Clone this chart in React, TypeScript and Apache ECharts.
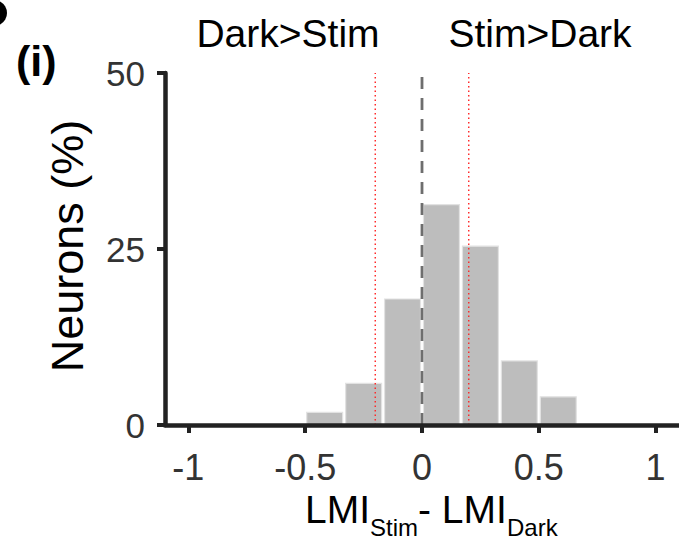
import React, { useEffect, useRef } from "react";
import * as echarts from "echarts";

const binStarts = [-0.5, -0.3333, -0.1667, 0, 0.1667, 0.3333, 0.5];
const binWidth = 0.1667;
const percents = [1.8, 5.9, 17.9, 31.3, 25.4, 9.1, 4.0];
const xTicks = [-1, -0.5, 0, 0.5, 1];
const zeroLine = [[0, 0], [0, 50]];
const leftThreshold = [[-0.2, 0], [-0.2, 50]];
const rightThreshold = [[0.2, 0], [0.2, 50]];

const FONT = '"Liberation Sans", Arial, Helvetica, sans-serif';

export default function App() {
  const ref = useRef<HTMLDivElement>(null);
  useEffect(() => {
    if (!ref.current) return;
    document.body.style.margin = "0";
    const chart = echarts.init(ref.current, undefined, { renderer: "svg" });
    const barData = binStarts.map((s, i) => [s, s + binWidth, percents[i]]);
    chart.setOption({
      animation: false,
      backgroundColor: "#ffffff",
      grid: { left: 165, right: 0, top: 73, bottom: 117, containLabel: false },
      xAxis: {
        type: "value",
        min: -1.1,
        max: 1.1,
        z: 5,
        splitLine: { show: false },
        axisLine: { show: true, onZero: false, lineStyle: { color: "#222", width: 4.5 } },
        axisTick: { show: true, customValues: xTicks, length: 8, lineStyle: { color: "#222", width: 4 } },
        axisLabel: {
          customValues: xTicks,
          margin: 24,
          fontSize: 36,
          color: "#333",
          fontFamily: FONT,
        },
      },
      yAxis: {
        type: "value",
        min: 0,
        max: 50,
        interval: 25,
        z: 5,
        splitLine: { show: false },
        axisLine: { show: true, onZero: false, lineStyle: { color: "#222", width: 4.5 } },
        axisTick: { show: true, length: 8, lineStyle: { color: "#222", width: 4 } },
        axisLabel: { margin: 20, fontSize: 35, color: "#333", fontFamily: FONT },
      },
      series: [
        {
          type: "custom",
          data: barData,
          z: 2,
          renderItem: (params: any, api: any) => {
            const x0 = api.value(0);
            const x1 = api.value(1);
            const y = api.value(2);
            const p0 = api.coord([x0, y]);
            const p1 = api.coord([x1, 0]);
            return {
              type: "rect",
              shape: { x: p0[0] + 1.5, y: p0[1], width: p1[0] - p0[0] - 3, height: p1[1] - p0[1] },
              style: { fill: "#bdbdbd", stroke: "#e2e2e2", lineWidth: 1.2 },
            };
          },
        },
        {
          type: "line",
          data: zeroLine,
          symbol: "none",
          z: 3,
          lineStyle: { color: "#6e6e6e", width: 2.8, type: [12, 9] },
        },
        {
          type: "line",
          data: leftThreshold,
          symbol: "none",
          z: 4,
          lineStyle: { color: "#ff2a2a", width: 1.5, type: [1.5, 3] },
        },
        {
          type: "line",
          data: rightThreshold,
          symbol: "none",
          z: 4,
          lineStyle: { color: "#ff2a2a", width: 1.5, type: [1.5, 3] },
        },
      ],
      graphic: [
        { type: "circle", shape: { cx: -6, cy: 13, r: 13 }, style: { fill: "#000" } },
        {
          type: "text",
          x: 16,
          y: 61,
          style: { text: "(i)", fontSize: 43, fontWeight: "bold", fontFamily: FONT, fill: "#000", textAlign: "left", textVerticalAlign: "middle" },
        },
        {
          type: "text",
          x: 288,
          y: 33,
          style: { text: "Dark>Stim", fontSize: 39, fontFamily: FONT, fill: "#000", textAlign: "center", textVerticalAlign: "middle" },
        },
        {
          type: "text",
          x: 540,
          y: 33,
          style: { text: "Stim>Dark", fontSize: 39, fontFamily: FONT, fill: "#000", textAlign: "center", textVerticalAlign: "middle" },
        },
        {
          type: "text",
          x: 67,
          y: 246,
          rotation: Math.PI / 2,
          style: { text: "Neurons (%)", fontSize: 45, fontFamily: FONT, fill: "#000", textAlign: "center", textVerticalAlign: "middle" },
        },
        {
          type: "text",
          x: 305,
          y: 509,
          style: { text: "LMI", fontSize: 39, fontFamily: FONT, fill: "#000", textAlign: "left", textVerticalAlign: "middle" },
        },
        {
          type: "text",
          x: 370,
          y: 527,
          style: { text: "Stim", fontSize: 24, fontFamily: FONT, fill: "#000", textAlign: "left", textVerticalAlign: "middle" },
        },
        {
          type: "text",
          x: 418,
          y: 509,
          style: { text: "- LMI", fontSize: 39, fontFamily: FONT, fill: "#000", textAlign: "left", textVerticalAlign: "middle" },
        },
        {
          type: "text",
          x: 507,
          y: 527,
          style: { text: "Dark", fontSize: 24, fontFamily: FONT, fill: "#000", textAlign: "left", textVerticalAlign: "middle" },
        },
      ],
    });
    return () => chart.dispose();
  }, []);
  return <div ref={ref} style={{ position: "fixed", left: 0, top: 0, width: 679, height: 542 }} />;
}
